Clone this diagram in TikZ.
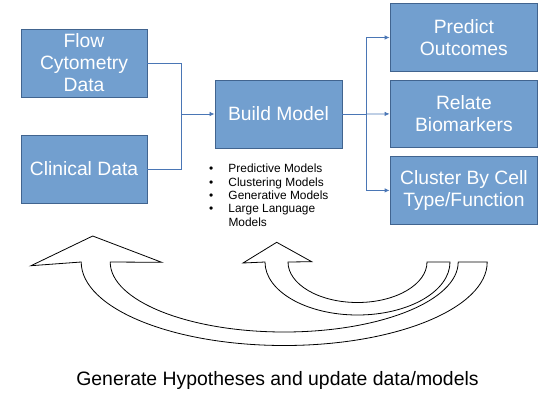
\documentclass[tikz,border=0pt]{standalone}
\usepackage{fontspec}
\setmainfont{Liberation Sans}
\usetikzlibrary{arrows.meta}
\definecolor{boxfill}{HTML}{729FCF}
\definecolor{boxline}{HTML}{41648F}
\definecolor{conn}{HTML}{4A76B5}
\tikzset{
  box/.style={draw=boxline, line width=0.9pt, fill=boxfill, text=white,
    align=center, inner sep=0pt,
    font=\fontsize{19.3}{22}\selectfont},
  link/.style={draw=conn, line width=0.8pt},
  linkarrow/.style={link, -{Latex[length=5pt,width=4.5pt]}},
  bigarrow/.style={draw=black, line width=0.8pt, fill=white, line join=miter},
}
\begin{document}
\begin{tikzpicture}[x=1pt,y=-1pt]
\useasboundingbox (0,0) rectangle (546,405);
% boxes
\node[box, minimum width=126pt, minimum height=68pt] (flow) at (84,63) {Flow\\Cytometry\\Data};
\node[box, minimum width=126pt, minimum height=68pt] (clin) at (84,169) {Clinical Data};
\node[box, minimum width=127pt, minimum height=68pt] (build) at (278.5,114) {Build Model};
\node[box, minimum width=147.7pt, minimum height=68.4pt] (pred) at (463.9,37.5) {Predict\\Outcomes};
\node[box, minimum width=147.7pt, minimum height=67.7pt] (rel) at (463.9,113.9) {Relate\\Biomarkers};
\node[box, minimum width=147.7pt, minimum height=67.3pt] (clus) at (463.9,190.4) {Cluster By Cell\\Type/Function};
% connectors
\coordinate (jl) at (181,114);
\coordinate (jr) at (366,114);
\draw[link] (flow.east) -| (jl);
\draw[link] (clin.east) -| (jl);
\draw[linkarrow] (jl) -- (build.west);
\draw[link] (build.east) -- (jr);
\draw[linkarrow] (jr) |- (pred.west);
\draw[linkarrow] (jr) -- (rel.west);
\draw[linkarrow] (jr) |- (clus.west);
% bullet list
\node[anchor=north west, inner sep=0pt, align=left, font=\fontsize{11.9}{13.3}\selectfont] (list) at (209,163.3)
{\begin{tabular}{@{}p{19.3pt}@{}l@{}}
•&Predictive Models\\
•&Clustering Models\\
•&Generative Models\\
•&Large Language\\
&Models
\end{tabular}};
% circular block arrows
\draw[bigarrow] (458.2,262) arc[start angle=0,end angle=-180,x radius=174pt,y radius=70pt]
  -- (161.7,262.3) -- (92.7,236) -- (31,265.7) -- (81.2,262)
  arc[start angle=-180,end angle=0,x radius=203pt,y radius=83.5pt] -- cycle;
\draw[bigarrow] (427,262) arc[start angle=0,end angle=-180,x radius=69.5pt,y radius=40.5pt]
  -- (311.7,261.7) -- (276.7,242.3) -- (243,263) -- (265,262)
  arc[start angle=-180,end angle=0,x radius=92.5pt,y radius=53pt] -- cycle;
% caption
\node[anchor=base, inner sep=0pt, font=\fontsize{19.4}{23}\selectfont] (caption) at (277.5,385) {Generate Hypotheses and update data/models};
\end{tikzpicture}
\end{document}
